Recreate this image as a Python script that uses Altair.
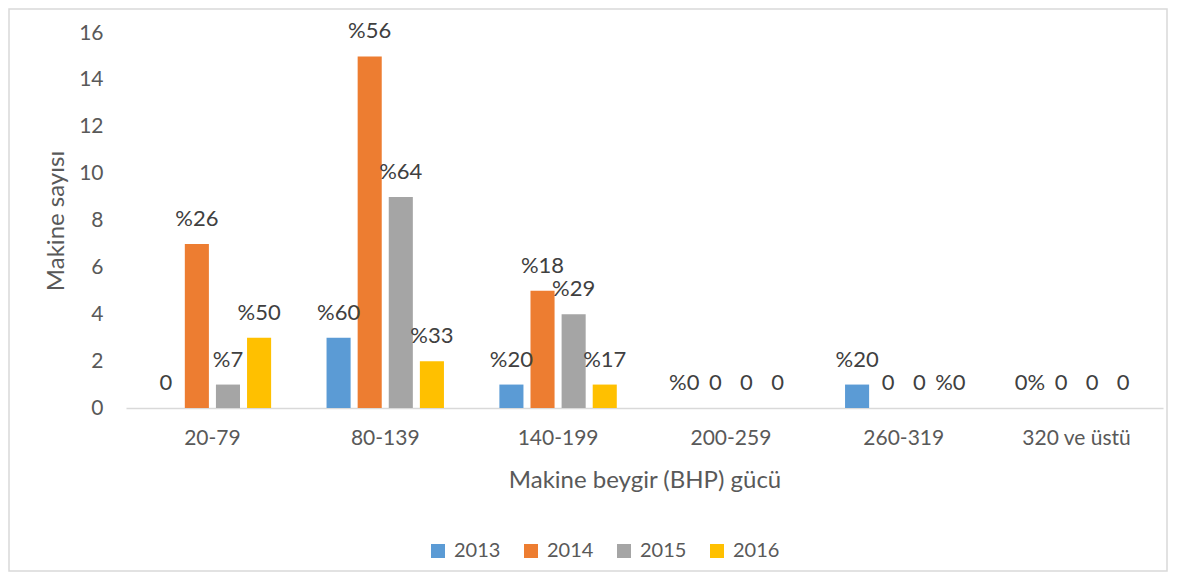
import altair as alt
import pandas as pd

categories = ["20-79", "80-139", "140-199", "200-259", "260-319", "320 ve üstü"]
years = ["2013", "2014", "2015", "2016"]
v2013 = [0, 3, 1, 0, 1, 0]
v2014 = [7, 15, 5, 0, 0, 0]
v2015 = [1, 9, 4, 0, 0, 0]
v2016 = [3, 2, 1, 0, 0, 0]
l2013 = ["0", "%60", "%20", "%0", "%20", "0%"]
l2014 = ["%26", "%56", "%18", "0", "0", "0"]
l2015 = ["%7", "%64", "%29", "0", "0", "0"]
l2016 = ["%50", "%33", "%17", "0", "%0", "0"]
colors = ["#5B9BD5", "#ED7D31", "#A5A5A5", "#FFC000"]

vals = [v2013, v2014, v2015, v2016]
labs = [l2013, l2014, l2015, l2016]
rows = []
for yi, y in enumerate(years):
    for ci, c in enumerate(categories):
        rows.append({"cat": c, "year": y, "value": vals[yi][ci], "label": labs[yi][ci]})
df = pd.DataFrame(rows)

FONT = "Lato"
W, H = 1037, 375

x_enc = alt.X("cat:N", sort=categories,
              scale=alt.Scale(paddingInner=0.28, paddingOuter=0.14),
              axis=alt.Axis(title="Makine beygir (BHP) gücü", labelAngle=0,
                            labelFontSize=21, labelColor="#595959", labelPadding=19,
                            titleFontSize=24, titleColor="#595959", titleFontWeight="normal",
                            titlePadding=20, ticks=False, domainColor="#D9D9D9",
                            domainWidth=1.5, grid=False, labelFont=FONT, titleFont=FONT))
xo_enc = alt.XOffset("year:N", sort=years,
                     scale=alt.Scale(paddingInner=0.226, paddingOuter=0.113))

bars = alt.Chart(df).mark_bar().encode(
    x=x_enc,
    xOffset=xo_enc,
    y=alt.Y("value:Q", scale=alt.Scale(domain=[0, 16]),
            axis=alt.Axis(title="Makine sayısı", values=list(range(0, 17, 2)),
                          labelFontSize=21, labelColor="#595959", labelPadding=23,
                          titleFontSize=24, titleColor="#595959", titleFontWeight="normal",
                          titlePadding=10, ticks=False, domain=False, grid=False,
                          labelFont=FONT, titleFont=FONT)),
    color=alt.Color("year:N", sort=years,
                    scale=alt.Scale(domain=years, range=colors),
                    legend=alt.Legend(title=None, orient="none", direction="horizontal",
                                      legendX=302, legendY=508,
                                      symbolType="square", symbolSize=196,
                                      symbolStrokeWidth=0, labelFontSize=20,
                                      labelColor="#595959", labelFont=FONT,
                                      labelOffset=6, columnPadding=20)),
)

texts = alt.Chart(df).mark_text(baseline="middle", dy=-25, fontSize=22,
                                color="#404040", font=FONT).encode(
    x=alt.X("cat:N", sort=categories),
    xOffset=alt.XOffset("year:N", sort=years),
    y="value:Q",
    text="label:N",
)

border = alt.Chart(pd.DataFrame({"a": [0]})).mark_rect(
    fill="transparent", stroke="#D9D9D9", strokeWidth=1.5).encode(
    x=alt.value(-117), x2=alt.value(W + 4), y=alt.value(-24), y2=alt.value(H + 163))

chart = alt.layer(border, bars, texts).properties(
    width=W, height=H,
    autosize=alt.AutoSizeParams(type="none"),
    padding={"left": 118, "top": 25, "right": 5, "bottom": 165},
).configure(font=FONT).configure_view(strokeWidth=0, stroke="transparent")

chart.save("out.html", embed_options={"renderer": "svg", "actions": False})
